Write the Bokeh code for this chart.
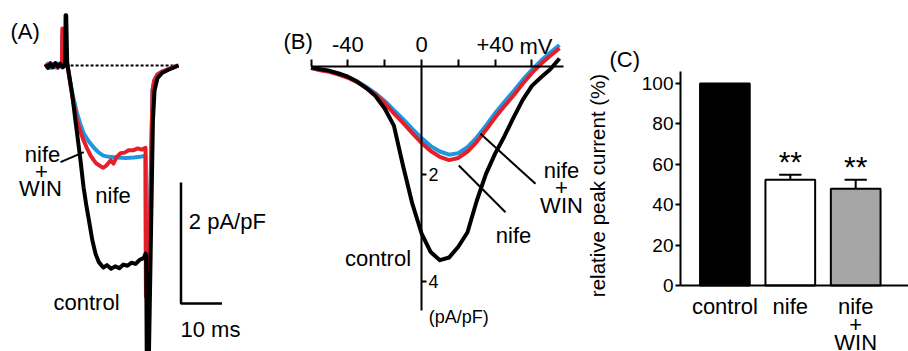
import math
from bokeh.plotting import figure
from bokeh.models import Range1d, LinearAxis, FixedTicker
from bokeh.layouts import row
from bokeh.embed import file_html
from bokeh.resources import INLINE
from bokeh.core.properties import value

FONT = "Liberation Sans"
RED = "#e3202a"
BLUE = "#1f97e0"
GRAY = "#a6a6a6"
H = 351

# ---------------- Panel A: current traces (ms, pA/pF) ----------------
a_ctrl_t = [0.0, 0.6, 1.2, 1.8, 2.4, 3.0, 3.6, 4.2, 4.8, 4.9, 5.05, 5.3, 6.5, 7.3, 7.7, 8.5, 9.3, 10.0,
            10.6, 11.4, 12.2, 13.0, 14.1, 15.0, 16.0, 17.0, 18.0, 19.0, 20.0, 21.0, 22.0, 23.0, 24.0,
            24.4, 24.55, 24.7, 25.2, 26.2, 26.6, 27.3, 28.5, 30.0, 32.4]
a_ctrl_i = [0.02, -0.04, 0.03, -0.03, 0.04, -0.02, 0.03, -0.03, 0.0, 0.83, 0.83, 0.03, -0.47, -0.91,
            -1.12, -1.55, -2.02, -2.33, -2.56, -2.88, -3.11, -3.25, -3.34, -3.30, -3.36, -3.32, -3.35,
            -3.29, -3.31, -3.26, -3.28, -3.21, -3.18, -3.11, -3.15, -4.90, -4.90, -0.91, -0.41, -0.21,
            -0.12, -0.07, 0.0]
a_nife_t = [0.0, 0.6, 1.2, 1.8, 2.4, 3.0, 3.6, 4.0, 4.1, 4.2, 4.8, 5.3, 6.5, 7.7, 8.5, 9.3, 10.2, 11.0,
            11.7, 12.4, 13.3, 14.1, 14.9, 15.5, 15.9, 16.6, 17.3, 18.3, 19.3, 20.3, 21.5, 22.5, 23.5,
            24.4, 24.5, 25.1, 26.1, 26.5, 27.3, 28.5, 30.0, 32.4]
a_nife_i = [0.03, -0.03, 0.04, -0.02, 0.03, -0.04, 0.02, 0.0, 0.61, 0.0, 0.02, 0.03, -0.50, -0.91,
            -1.09, -1.24, -1.38, -1.49, -1.56, -1.62, -1.66, -1.69, -1.65, -1.60, -1.57, -1.62, -1.52,
            -1.45, -1.44, -1.40, -1.40, -1.37, -1.39, -1.36, -3.82, -3.82, -0.41, -0.25, -0.15, -0.10,
            -0.06, 0.0]
a_win_t = [0.0, 0.6, 1.2, 1.8, 2.4, 3.0, 3.6, 4.0, 4.1, 4.2, 4.8, 5.3, 6.5, 7.7, 8.5, 9.3, 10.5, 11.8,
           13.0, 14.1, 15.5, 17.5, 19.5, 21.5, 23.0, 24.4, 24.5, 25.1, 26.1, 26.5, 27.3, 28.5, 30.0, 32.4]
a_win_i = [-0.02, 0.03, -0.04, 0.02, -0.03, 0.03, -0.02, 0.0, 0.5, 0.0, 0.01, 0.03, -0.45, -0.79,
           -0.97, -1.12, -1.25, -1.36, -1.44, -1.49, -1.51, -1.52, -1.53, -1.52, -1.51, -1.49, -3.6,
           -3.6, -0.41, -0.25, -0.15, -0.10, -0.06, 0.0]
a_baseline_t = [4.9, 32.9]
scale_current = 2      # pA/pF
scale_time = 10        # ms

# ---------------- Panel B: I-V relation (mV, pA/pF) ----------------
iv_mv = [-60, -55, -50, -45, -40, -35, -30, -25, -20, -15, -10, -5, 0, 5, 10, 15, 20, 25, 30, 35,
         40, 45, 50, 55, 60, 65, 70, 75]
iv_control = [0.02, 0.05, 0.08, 0.13, 0.19, 0.28, 0.40, 0.55, 0.78, 1.10, 1.85, 2.55, 3.10, 3.45,
              3.60, 3.55, 3.35, 3.08, 2.50, 2.00, 1.62, 1.30, 0.95, 0.62, 0.36, 0.20, 0.05, -0.15]
iv_nife = [0.03, 0.07, 0.10, 0.15, 0.21, 0.29, 0.40, 0.52, 0.68, 0.87, 1.05, 1.24, 1.42, 1.57, 1.68,
           1.74, 1.70, 1.58, 1.40, 1.18, 0.95, 0.74, 0.54, 0.32, 0.12, -0.05, -0.20, -0.34]
iv_win = [0.02, 0.06, 0.09, 0.14, 0.20, 0.28, 0.38, 0.50, 0.64, 0.81, 0.98, 1.16, 1.33, 1.48, 1.58,
          1.64, 1.61, 1.50, 1.32, 1.10, 0.87, 0.66, 0.46, 0.25, 0.06, -0.11, -0.26, -0.40]
iv_ticks = [-60, -40, -20, 0, 20, 40, 60]
iv_tick_labels = {-60: "", -40: "-40", -20: "", 0: "0", 20: "", 40: "+40", 60: ""}
cur_ticks = [2, 4]

# ---------------- Panel C: relative peak current (%) ----------------
groups = ["control", "nife", "nife\n+\nWIN"]
rel_peak = [100, 52.3, 47.9]
rel_err = [0, 2.5, 4.5]
signif = ["", "**", "**"]
bar_colors = ["black", "white", GRAY]
pct_ticks = [0, 20, 40, 60, 80, 100]

# page-pixel -> data helpers
def ax(px): return (px - 45) / 4.1
def ay(py): return -(py - 65) / 60.5
def bx(px): return (px - 421) / 1.84
def by(py): return (py - 66) / 53.8
def cx(px): return (px - 724.4) / 65.4
def cy(py): return (285 - py) / 2.02

XA0, XA1 = 0, 280
XB0, XB1 = 280, 586
XC0, XC1 = 586, 908


def make_fig(w, xr, yr):
    p = figure(width=w, height=H, x_range=Range1d(*xr), y_range=Range1d(*yr),
               x_axis_type=None, y_axis_type=None, output_backend="svg",
               toolbar_location=None, min_border=0)
    p.grid.visible = False
    p.outline_line_color = None
    p.background_fill_color = "white"
    p.border_fill_color = "white"
    return p


def txt(p, xs, ys, texts, size="22px", align="center", baseline="alphabetic", angle=0.0):
    p.text(x=xs, y=ys, text=texts, text_font=value(FONT), text_font_size=size,
           text_align=align, text_baseline=baseline, angle=angle, text_color="black")


# ---------- Panel A ----------
pA = make_fig(XA1 - XA0, (ax(XA0), ax(XA1)), (ay(H), ay(0)))
pA.line(a_baseline_t, [0, 0], line_color="black", line_width=2, line_dash="3 2")
pA.line(a_win_t, a_win_i, line_color=BLUE, line_width=4, line_join="round")
pA.line(a_nife_t, a_nife_i, line_color=RED, line_width=4, line_join="round")
pA.line(a_ctrl_t, a_ctrl_i, line_color="black", line_width=4, line_join="round")
t0, i0 = ax(180.5), ay(303)
pA.line([t0, t0, t0 + scale_time], [i0 + scale_current, i0, i0], line_color="black", line_width=2.5)
pA.segment(x0=[ax(60)], y0=[ay(161.7)], x1=[ax(83.3)], y1=[ay(151.7)], line_color="black", line_width=2)
txt(pA, [ax(10)], [ay(31)], ["(A)"], align="left")
txt(pA, [ax(42), ax(41), ax(40), ax(112.5), ax(86)],
    [ay(153.5), ay(171), ay(188.3), ay(195), ay(301.7)],
    ["nife", "+", "WIN", "nife", "control"])
txt(pA, [ax(188.3), ax(180)], [ay(221), ay(328.5)],
    [f"{scale_current} pA/pF", f"{scale_time} ms"], align="left")

# ---------- Panel B ----------
pB = make_fig(XB1 - XB0, (bx(XB0), bx(XB1)), (by(H), by(0)))
xa = LinearAxis(fixed_location=0, bounds=(-60, 77), ticker=FixedTicker(ticks=iv_ticks),
                major_label_overrides=iv_tick_labels, major_tick_out=7, major_tick_in=0,
                minor_tick_out=0, minor_tick_in=0, axis_line_width=2, major_tick_line_width=2,
                major_label_text_font=FONT, major_label_text_font_size="22px",
                major_label_standoff=8, major_label_text_color="black")
pB.add_layout(xa, "above")
ya = LinearAxis(fixed_location=0, bounds=(0, 4.54), ticker=FixedTicker(ticks=cur_ticks),
                major_tick_out=5, major_tick_in=0, minor_tick_out=0, minor_tick_in=0,
                axis_line_width=2, major_tick_line_width=2,
                major_label_text_font=FONT, major_label_text_font_size="18px",
                major_label_standoff=2, major_label_text_color="black")
pB.add_layout(ya, "right")
pB.line(iv_mv, iv_win, line_color=BLUE, line_width=4, line_join="round")
pB.line(iv_mv, iv_nife, line_color=RED, line_width=4, line_join="round")
pB.line(iv_mv, iv_control, line_color="black", line_width=4, line_join="round")
pB.segment(x0=[bx(458.3), bx(480)], y0=[by(165), by(133.3)], x1=[bx(505), bx(535)],
           y1=[by(211.7), by(183.3)], line_color="black", line_width=2)
txt(pB, [bx(283)], [by(41)], ["(B)"], align="left")
txt(pB, [bx(519)], [by(46)], ["mV"], align="left")
txt(pB, [bx(377.5), bx(513), bx(561), bx(561), bx(561)],
    [by(258), by(235), by(170), by(187), by(205)],
    ["control", "nife", "nife", "+", "WIN"])
txt(pB, [bx(428.3)], [by(316)], ["(pA/pF)"], size="18px", align="left")

# ---------- Panel C ----------
pos = list(range(len(groups)))
pC = make_fig(XC1 - XC0, (cx(XC0), cx(XC1)), (cy(H), cy(0)))
xc = LinearAxis(fixed_location=0, bounds=(cx(680), cx(XC1)), ticker=FixedTicker(ticks=pos),
                major_label_overrides={i: g for i, g in enumerate(groups)},
                major_tick_out=0, major_tick_in=0, minor_tick_out=0, minor_tick_in=0,
                axis_line_width=2, major_label_text_font=FONT, major_label_text_font_size="22px",
                major_label_standoff=8, major_label_text_color="black",
                major_label_text_line_height=0.72)
pC.add_layout(xc, "below")
yc = LinearAxis(fixed_location=cx(680), bounds=(0, 106), ticker=FixedTicker(ticks=pct_ticks),
                major_tick_out=5, major_tick_in=0, minor_tick_out=0, minor_tick_in=0,
                axis_line_width=2, major_tick_line_width=2,
                major_label_text_font=FONT, major_label_text_font_size="19px",
                major_label_standoff=2, major_label_text_color="black")
pC.add_layout(yc, "left")
pC.vbar(x=pos, top=rel_peak, bottom=0, width=0.76, fill_color=bar_colors,
        line_color="black", line_width=2)
tops = [v + e for v, e in zip(rel_peak, rel_err)]
pC.segment(x0=pos[1:], y0=rel_peak[1:], x1=pos[1:], y1=tops[1:], line_color="black", line_width=2)
pC.segment(x0=[x - 0.17 for x in pos[1:]], y0=tops[1:], x1=[x + 0.17 for x in pos[1:]],
           y1=tops[1:], line_color="black", line_width=2)
star_y = [t + 6.5 for t in tops]
txt(pC, pos[1:], star_y[1:], signif[1:], size="30px")
txt(pC, [cx(609)], [cy(58.5)], ["(C)"], align="left")
txt(pC, [cx(597)], [cy(185)], ["relative peak current (%)"], size="20.5px",
    baseline="middle", angle=math.pi / 2)

layout = row(pA, pB, pC)
open("out.html", "w").write(file_html(layout, INLINE))
